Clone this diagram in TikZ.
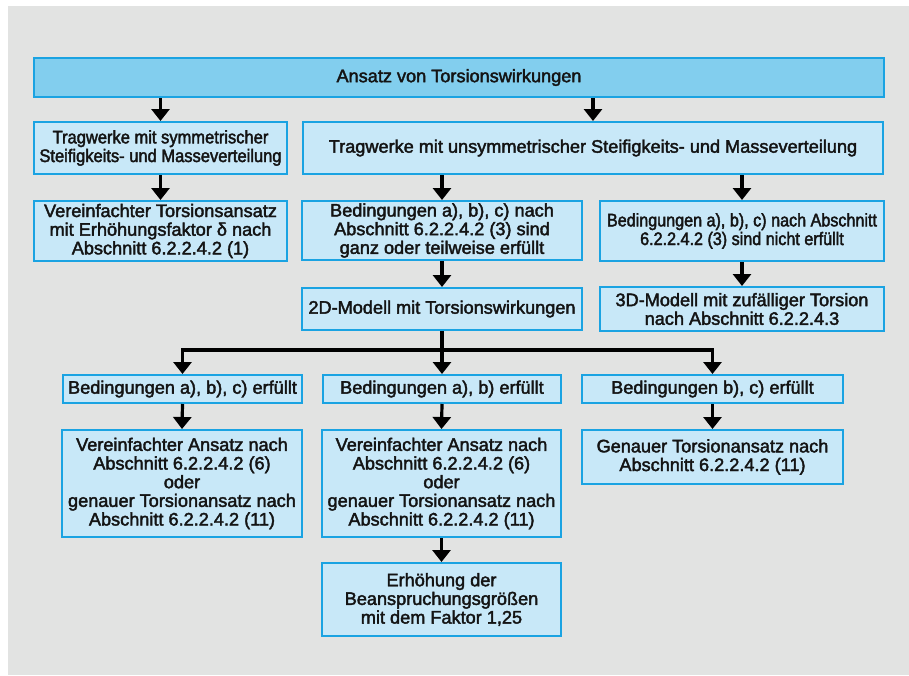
\documentclass[tikz,border=0pt]{standalone}
\usepackage{fontspec}
\setmainfont{Liberation Sans}[FakeBold=2.2]
\newfontfamily\narrowA{Liberation Sans}[FakeBold=2.2,FakeStretch=0.91]
\newfontfamily\narrowE{Liberation Sans}[FakeBold=2.2,FakeStretch=0.89]
\usetikzlibrary{arrows.meta}
\definecolor{bg}{RGB}{226,227,226}
\definecolor{topfill}{RGB}{130,206,238}
\definecolor{boxfill}{RGB}{200,232,248}
\definecolor{boxline}{RGB}{26,163,226}
\definecolor{txt}{RGB}{20,20,20}
\tikzset{
  box/.style={draw=boxline, fill=boxfill, line width=1.5pt, align=center, inner sep=0pt,
    font=\fontsize{13.6}{14}\selectfont, text=txt},
  sz/.style 2 args={minimum width={#1*0.75pt}, minimum height={#2*0.75pt}},
  arr/.style={line width=2.4pt, -{Triangle[width=13.5pt,length=9pt]}},
}
\begin{document}
\begin{tikzpicture}[x=0.75pt,y=-0.75pt]
\useasboundingbox (0,0) rectangle (909,675);
\fill[bg] (8,6) rectangle (909,675);

\node[box, fill=topfill, sz={850}{39}] (top) at (459,77.5) {Ansatz von Torsionswirkungen};
\node[box, sz={253}{52}, font=\narrowA\fontsize{13.6}{14}\selectfont] (A) at (160.5,148) {Tragwerke mit symmetrischer\\Steifigkeits- und Masseverteilung};
\node[box, sz={580}{52}] (B) at (593,148) {Tragwerke mit unsymmetrischer Steifigkeits- und Masseverteilung};
\node[box, sz={253}{60}] (C) at (160.5,231) {Vereinfachter Torsionsansatz\\mit Erhöhungsfaktor δ nach\\Abschnitt 6.2.2.4.2 (1)};
\node[box, sz={280}{59}] (D) at (442,230.5) {Bedingungen a), b), c) nach\\Abschnitt 6.2.2.4.2 (3) sind\\ganz oder teilweise erfüllt};
\node[box, sz={284}{60}, font=\narrowE\fontsize{13.6}{14}\selectfont] (E) at (742,231) {Bedingungen a), b), c) nach Abschnitt\\6.2.2.4.2 (3) sind nicht erfüllt};
\node[box, sz={280}{42}] (F) at (442,309) {2D-Modell mit Torsionswirkungen};
\node[box, sz={284}{44}] (G) at (742,309) {3D-Modell mit zufälliger Torsion\\nach Abschnitt 6.2.2.4.3};
\node[box, sz={239}{28}] (H) at (182.5,389) {Bedingungen a), b), c) erfüllt};
\node[box, sz={238}{28}] (I) at (442,389) {Bedingungen a), b) erfüllt};
\node[box, sz={261}{28}] (J) at (712.5,389) {Bedingungen b), c) erfüllt};
\node[box, sz={240}{107}] (K) at (182,483.5) {Vereinfachter Ansatz nach\\Abschnitt 6.2.2.4.2 (6)\\oder\\genauer Torsionansatz nach\\Abschnitt 6.2.2.4.2 (11)};
\node[box, sz={239}{107}] (L) at (441.5,483.5) {Vereinfachter Ansatz nach\\Abschnitt 6.2.2.4.2 (6)\\oder\\genauer Torsionansatz nach\\Abschnitt 6.2.2.4.2 (11)};
\node[box, sz={261}{54}] (M) at (712.5,457) {Genauer Torsionansatz nach\\Abschnitt 6.2.2.4.2 (11)};
\node[box, sz={239}{73}] (N) at (441.5,599.5) {Erhöhung der\\Beanspruchungsgrößen\\mit dem Faktor 1,25};

\draw[arr] (top.south -| A.north) -- (A.north);
\draw[arr] (top.south -| B.north) -- (B.north);
\draw[arr] (A.south) -- (C.north);
\draw[arr] (B.south -| D.north) -- (D.north);
\draw[arr] (B.south -| E.north) -- (E.north);
\draw[arr] (D.south) -- (F.north);
\draw[arr] (E.south) -- (G.north);
\draw[arr] (F.south) -- ++(0,19) -| (H.north);
\draw[arr] (F.south) -- ++(0,19) -| (J.north);
\draw[arr] (F.south) -- (I.north);
\draw[arr] (H.south) -- (K.north);
\draw[arr] (I.south) -- (L.north);
\draw[arr] (J.south) -- (M.north);
\draw[arr] (L.south) -- (N.north);
\end{tikzpicture}
\end{document}
